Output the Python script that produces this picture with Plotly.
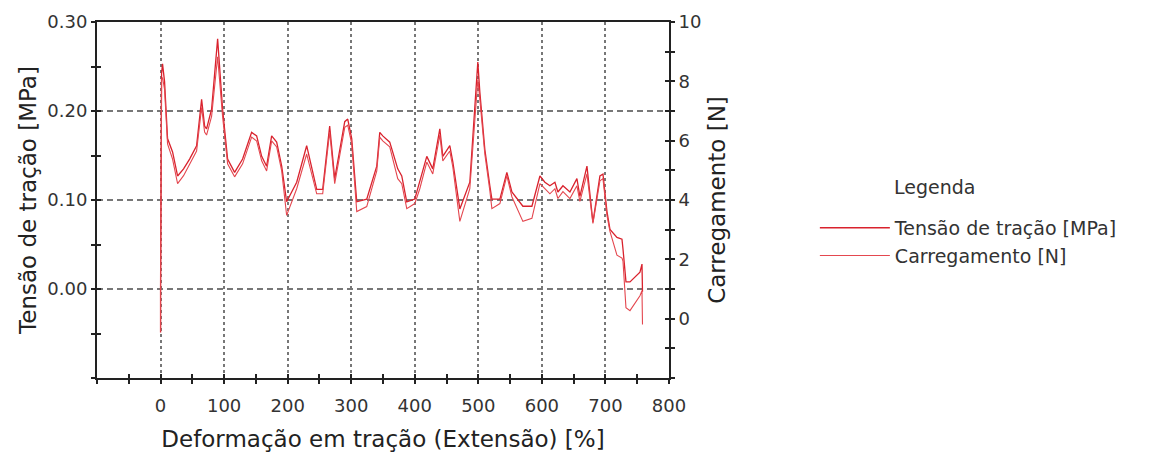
import plotly.graph_objects as go

# Deformação em tração (Extensão) [%]
deformacao = [0, 0, 1.6, 3.1, 6.3, 11.0, 18.9, 26.8, 36.2, 45.7, 56.7, 64.6, 69.3, 72.4, 80.3, 89.8,
              97.6, 105.5, 116.5, 129.1, 143.3, 151.2, 159.1, 166.9, 174.8, 182.7, 190.6, 198.4,
              214.2, 229.9, 245.7, 255.1, 266.1, 274.0, 289.8, 294.5, 300.8, 308.7, 324.4, 340.2,
              344.9, 349.6, 360.6, 373.2, 379.5, 387.4, 400.0, 407.9, 418.9, 428.3, 439.4, 444.1,
              455.1, 459.8, 470.9, 486.6, 499.2, 502.4, 510.2, 518.1, 521.3, 533.9, 544.9, 552.8,
              570.1, 584.3, 596.9, 604.7, 612.6, 620.5, 625.2, 633.1, 644.1, 655.1, 659.8, 670.9,
              680.3, 691.3, 696.1, 702.4, 707.1, 718.1, 726.0, 727.6, 732.3, 738.6, 754.3, 757.5, 758.3]

# Tensão de tração [MPa] (left axis)
tensao = [-0.049, 0.00, 0.242, 0.253, 0.233, 0.169, 0.154, 0.127, 0.135, 0.146, 0.161, 0.213, 0.183, 0.180,
          0.202, 0.281, 0.202, 0.146, 0.131, 0.146, 0.176, 0.172, 0.149, 0.138, 0.172, 0.165, 0.138,
          0.098, 0.120, 0.161, 0.112, 0.112, 0.183, 0.124, 0.188, 0.191, 0.169, 0.098, 0.101, 0.138,
          0.176, 0.172, 0.165, 0.135, 0.127, 0.098, 0.101, 0.120, 0.149, 0.135, 0.180, 0.149, 0.161,
          0.143, 0.090, 0.120, 0.255, 0.221, 0.157, 0.116, 0.101, 0.101, 0.131, 0.109, 0.093, 0.093,
          0.127, 0.120, 0.116, 0.120, 0.109, 0.116, 0.109, 0.124, 0.104, 0.138, 0.075, 0.127, 0.129,
          0.087, 0.067, 0.058, 0.056, 0.045, 0.008, 0.008, 0.019, 0.028, -0.003]

# Carregamento [N] (right axis)
carregamento = [-0.43, 1.0, 8.06, 8.13, 7.73, 5.89, 5.38, 4.55, 4.82, 5.22, 5.65, 7.12, 6.29, 6.19, 6.82,
                8.83, 6.82, 5.22, 4.78, 5.22, 6.12, 5.99, 5.32, 4.98, 5.99, 5.79, 4.98, 3.48, 4.38,
                5.55, 4.21, 4.21, 6.29, 4.55, 6.45, 6.52, 5.89, 3.61, 3.78, 4.98, 6.12, 5.99, 5.79,
                4.72, 4.55, 3.71, 3.88, 4.38, 5.28, 4.88, 6.19, 5.32, 5.65, 5.12, 3.28, 4.38, 8.06,
                7.39, 5.55, 4.31, 3.71, 3.88, 4.82, 4.11, 3.28, 3.38, 4.55, 4.38, 4.21, 4.38, 4.05,
                4.28, 4.05, 4.48, 3.95, 4.88, 3.21, 4.65, 4.72, 3.48, 2.94, 2.14, 2.04, 1.94, 0.37,
                0.27, 0.77, 0.94, -0.20]

x_major = [0, 100, 200, 300, 400, 500, 600, 700, 800]
y_left_major = [0.0, 0.1, 0.2, 0.3]
y_left_labels = ["0.00", "0.10", "0.20", "0.30"]
y_right_major = [0, 2, 4, 6, 8, 10]

X_RANGE = [-100, 800]
YL_RANGE = [-0.1, 0.3]
YR_RANGE = [-2, 10]

FONT = "DejaVu Sans"
AXIS_COL = "#222222"
GRID_COL = "#777777"
TICK_FONT = dict(family=FONT, size=18, color="#333333")
TITLE_FONT = dict(family=FONT, size=23, color="#222222")


def tick_style(tick0, dtick, side="outside"):
    return dict(ticks=side, ticklen=4, tickwidth=2, tickcolor=AXIS_COL,
                minor=dict(tick0=tick0, dtick=dtick, ticks=side, ticklen=4, tickwidth=2,
                           tickcolor=AXIS_COL, showgrid=False))


def inner_ticks(rng, tickvals, tick0, dtick, **kw):
    # companion axis that only draws the inward half of the crossing ticks
    return dict(range=rng, tickmode="array", tickvals=tickvals, showticklabels=False,
                showline=False, showgrid=False, zeroline=False, automargin=False,
                **tick_style(tick0, dtick, "inside"), **kw)


fig = go.Figure()
fig.add_trace(go.Scatter(x=deformacao, y=tensao, mode="lines", name="Tensão de tração [MPa]",
                         line=dict(color="#d9222d", width=1.3), xaxis="x", yaxis="y"))
fig.add_trace(go.Scatter(x=deformacao, y=carregamento, mode="lines", name="Carregamento [N]",
                         line=dict(color="#e4474f", width=1.1), xaxis="x", yaxis="y2"))
# empty helper traces so the tick-only companion axes get drawn
for xa, ya in (("x2", "y"), ("x", "y3"), ("x", "y4")):
    fig.add_trace(go.Scatter(x=[], y=[], mode="lines", xaxis=xa, yaxis=ya,
                             showlegend=False, hoverinfo="skip"))

fig.update_layout(
    width=1157, height=449,
    margin=dict(l=89, r=496, t=14, b=79, autoexpand=False),
    paper_bgcolor="white", plot_bgcolor="white",
    font=dict(family=FONT, color="#333333"),
    showlegend=True,
    legend=dict(x=1.255, y=0.475, xanchor="left", yanchor="top",
                font=dict(family=FONT, size=19, color="#333333"),
                tracegroupgap=0, itemwidth=70, bgcolor="rgba(0,0,0,0)"),
    xaxis=dict(range=X_RANGE, tickmode="array", tickvals=x_major,
               ticktext=[str(v) for v in x_major], automargin=False,
               showline=True, linecolor=AXIS_COL, linewidth=2, mirror=True,
               **tick_style(-100, 50), ticklabelstandoff=6,
               showgrid=True, gridcolor=GRID_COL, griddash="3px,3px", gridwidth=2,
               zeroline=False, tickfont=TICK_FONT,
               title=dict(text="Deformação em tração (Extensão) [%]", font=TITLE_FONT, standoff=16)),
    yaxis=dict(range=YL_RANGE, tickmode="array", tickvals=y_left_major, ticktext=y_left_labels,
               automargin=False, showline=True, linecolor=AXIS_COL, linewidth=2,
               **tick_style(-0.1, 0.05),
               showgrid=True, gridcolor=GRID_COL, griddash="6px,4px", gridwidth=2,
               zeroline=False, tickfont=TICK_FONT,
               title=dict(text="Tensão de tração [MPa]", font=TITLE_FONT, standoff=4)),
    yaxis2=dict(range=YR_RANGE, overlaying="y", side="right", tickmode="array",
                tickvals=y_right_major, ticktext=[str(v) for v in y_right_major],
                automargin=False, showline=True, linecolor=AXIS_COL, linewidth=2,
                **tick_style(-2, 1),
                showgrid=False, zeroline=False, tickfont=TICK_FONT,
                title=dict(text="Carregamento [N]", font=TITLE_FONT, standoff=8)),
    xaxis2=inner_ticks(X_RANGE, x_major, -100, 50, overlaying="x", side="bottom", anchor="y"),
    yaxis3=inner_ticks(YL_RANGE, y_left_major, -0.1, 0.05, overlaying="y", side="left", anchor="x"),
    yaxis4=inner_ticks(YR_RANGE, y_right_major, -2, 1, overlaying="y", side="right", anchor="x"),
    annotations=[dict(text="Legenda", xref="paper", yref="paper", x=1.390, y=0.537,
                      xanchor="left", yanchor="middle", showarrow=False,
                      font=dict(family=FONT, size=19, color="#333333"))],
)

fig.write_html("out.html")
